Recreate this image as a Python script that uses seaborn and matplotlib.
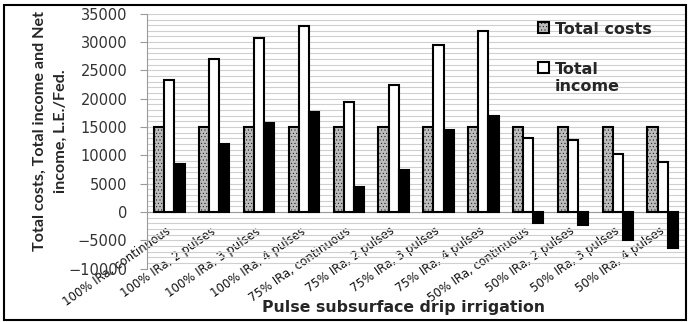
import matplotlib
matplotlib.use('Agg')
import matplotlib.pyplot as plt
import seaborn as sns
import pandas as pd
from matplotlib.ticker import MultipleLocator, FixedLocator
from matplotlib.patches import Rectangle

treatments = ["100% IRa, continuous", "100% IRa, 2 pulses", "100% IRa, 3 pulses", "100% IRa, 4 pulses",
              "75% IRa, continuous", "75% IRa, 2 pulses", "75% IRa, 3 pulses", "75% IRa, 4 pulses",
              "50% IRa, continuous", "50% IRa, 2 pulses", "50% IRa, 3 pulses", "50% IRa, 4 pulses"]
total_costs = [15000, 15000, 15000, 15000, 15000, 15000, 15000, 15000, 15000, 15000, 15000, 15000]
total_income = [23400, 27000, 30700, 32800, 19400, 22400, 29500, 31900, 13000, 12700, 10200, 8800]
net_income = [8400, 12000, 15700, 17700, 4400, 7400, 14500, 16900, -2000, -2300, -5000, -6400]
series_names = ["Total costs", "Total income", "Net income"]
legend_labels = ["Total costs", "Total\nincome"]

df = pd.DataFrame({
    "Treatment": treatments * 3,
    "Value": total_costs + total_income + net_income,
    "Series": [series_names[0]] * 12 + [series_names[1]] * 12 + [series_names[2]] * 12,
})

sns.set_style("white")
plt.rcParams['font.family'] = ['DejaVu Sans']
plt.rcParams['hatch.linewidth'] = 0.3

fig = plt.figure(figsize=(6.9, 3.22), dpi=100)
ax = fig.add_axes([0.213, 0.166, 0.78, 0.791])

sns.barplot(data=df, x="Treatment", y="Value", hue="Series", order=treatments,
            hue_order=series_names, palette=["#bcbcbc", "#ffffff", "#000000"],
            edgecolor="black", linewidth=1.5, width=0.68, gap=0, legend=False,
            saturation=1, ax=ax, zorder=3)

for p in ax.containers[0]:
    p.set_hatch(".....")

ax.set_xlim(-0.5, 11.5)
ax.set_ylim(-10000, 35000)
ax.yaxis.set_major_locator(MultipleLocator(5000))
ax.yaxis.set_minor_locator(MultipleLocator(1000))
ax.grid(which="both", axis="y", color="#cfcfcf", linewidth=0.8, zorder=0)
ax.set_axisbelow(True)

for s in ["top", "right"]:
    ax.spines[s].set_visible(False)
ax.spines["left"].set_color("#9a9a9a")
ax.spines["bottom"].set_color("#9a9a9a")
ax.spines["bottom"].set_position(("data", 0))

ax.xaxis.set_minor_locator(FixedLocator([i + 0.5 for i in range(-1, 12)]))
ax.tick_params(axis="x", which="major", length=0, pad=13, labelsize=8.5, labelcolor="#111111")
ax.tick_params(axis="x", which="minor", length=4, color="#9a9a9a", direction="out")
ax.tick_params(axis="y", which="major", length=5, color="#9a9a9a", labelsize=10.5, pad=9,
               labelcolor="#333333", left=True)
ax.tick_params(axis="y", which="minor", length=0)
for lab in ax.get_xticklabels():
    lab.set_rotation(35)
    lab.set_ha("right")
    lab.set_va("center")
    lab.set_rotation_mode("anchor")

ax.set_xlabel("Pulse subsurface drip irrigation", fontsize=11.3, fontweight="bold")
ax.xaxis.set_label_coords(0.476, -0.125)
ax.set_ylabel("Total costs, Total income and Net\nincome, L.E./Fed.", fontsize=11.6,
              fontweight="bold", family=["Lato", "DejaVu Sans"], linespacing=1.6)
ax.yaxis.set_label_coords(-0.148, 0.54)

leg = ax.legend(handles=[ax.containers[0], ax.containers[1]], labels=legend_labels,
                loc="upper left", bbox_to_anchor=(0.715, 0.995), frameon=False,
                prop={"size": 11.5, "weight": "bold"}, handlelength=0.7, handleheight=0.7,
                handletextpad=0.35, labelspacing=1.6, borderaxespad=0)
for col in leg._legend_handle_box.get_children():
    for row in col.get_children():
        row.align = "top"

fig.patches.append(Rectangle((0.006, 0.006), 0.988, 0.978, transform=fig.transFigure,
                             fill=False, lw=1.5, ec="black"))

fig.savefig("out.png", dpi=100)
